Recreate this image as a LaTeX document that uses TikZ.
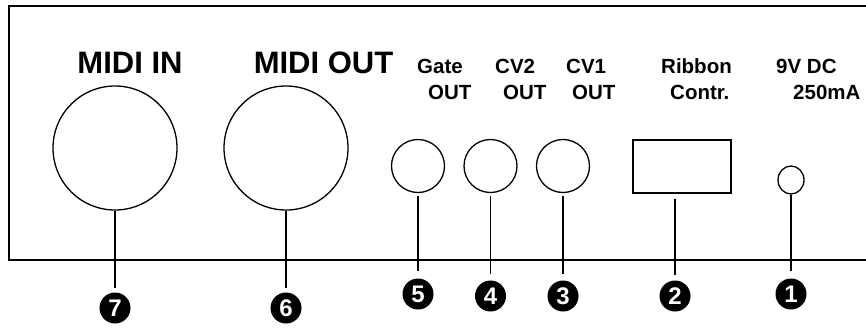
\documentclass[tikz,border=0pt]{standalone}
\usepackage{fontspec}
\setmainfont{Liberation Sans}
\usetikzlibrary{shapes.geometric}

\begin{document}
\begin{tikzpicture}[
        x=1pt, y=-1pt,
        jack/.style={draw, circle, line width=1.3pt, inner sep=0pt},
        socket/.style={draw, line width=1.3pt, inner sep=0pt},
        tag/.style={anchor=base west, inner sep=0pt, font=\fontsize{20.5}{20.5}\selectfont\bfseries},
        bigtag/.style={anchor=base, inner sep=0pt, font=\fontsize{31}{31}\selectfont\bfseries},
        num/.style={circle, fill=black, text=white, inner sep=0pt, minimum size=31pt, font=\fontsize{24}{24}\selectfont\bfseries},
        lead/.style={line width=1.8pt}
    ]
    \useasboundingbox (0,0) rectangle (866,327);
    % back panel, open at the right
    \draw[line width=2pt] (867,6) -- (9,6) -- (9,260) -- (867,260);

    % sockets
    \node[jack, minimum size=124pt] (midiin) at (115,148) {};
    \node[jack, minimum size=124pt] (midiout) at (286,148) {};
    \node[jack, minimum size=53pt] (gate) at (418,166) {};
    \node[jack, minimum size=53pt] (cvtwo) at (490.5,166) {};
    \node[jack, minimum size=53pt] (cvone) at (563,166) {};
    \node[socket, rectangle, minimum width=98pt, minimum height=53pt] (ribbon) at (682,166.5) {};
    \node[socket, ellipse, minimum width=26pt, minimum height=28pt] (dcin) at (791,180) {};

    % labels
    \node[bigtag] (tmidiin) at (130,73) {MIDI IN};
    \node[bigtag] (tmidiout) at (323.5,73) {MIDI OUT};
    \node[tag] (tgate) at (417,73) {Gate};
    \node[tag] (tgateout) at (428,99) {OUT};
    \node[tag] (tcvtwo) at (495,73) {CV2};
    \node[tag] (tcvtwoout) at (503,99) {OUT};
    \node[tag] (tcvone) at (566,73) {CV1};
    \node[tag] (tcvoneout) at (572,99) {OUT};
    \node[tag] (tribbon) at (661,73) {Ribbon};
    \node[tag] (tcontr) at (670,99) {Contr.};
    \node[tag] (tdc) at (776,73) {9V DC};
    \node[tag] (tma) at (793,99) {250mA};

    % numbers
    \node[num] (n7) at (115,308) {7};
    \node[num] (n6) at (286,308) {6};
    \node[num] (n5) at (418,294) {5};
    \node[num] (n4) at (490.5,296) {4};
    \node[num] (n3) at (563,296) {3};
    \node[num] (n2) at (675,296) {2};
    \node[num] (n1) at (791,294) {1};

    \draw[lead, shorten >=4pt] (midiin.south) -- (n7.north);
    \draw[lead, shorten >=4pt] (midiout.south) -- (n6.north);
    \draw[lead, shorten <=3pt, shorten >=7pt] (gate.south) -- (n5.north);
    \draw[lead, shorten <=3pt, shorten >=6pt] (cvtwo.south) -- (n4.north);
    \draw[lead, shorten <=3pt, shorten >=6pt] (cvone.south) -- (n3.north);
    \draw[lead, shorten <=5pt, shorten >=5pt] (n2 |- ribbon.south) -- (n2.north);
    \draw[lead, shorten >=7pt] (dcin.south) -- (n1.north);
\end{tikzpicture}
\end{document}
